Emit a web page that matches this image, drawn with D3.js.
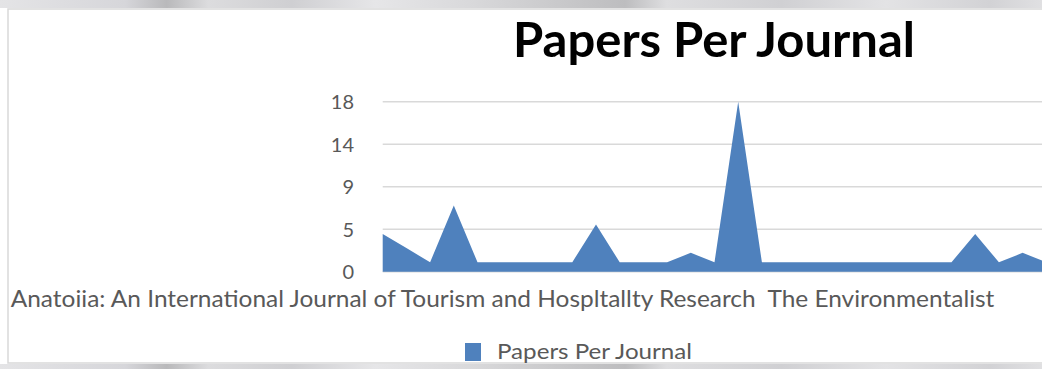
<!DOCTYPE html>
<html>
<head>
<meta charset="utf-8">
<script src="https://cdn.jsdelivr.net/npm/d3@7"></script>
<style>
  html, body { margin: 0; padding: 0; background: #ffffff; }
  svg { display: block; }
  text { font-family: Lato, "Open Sans", "Noto Sans", sans-serif; }
</style>
</head>
<body>
<svg id="chart" width="1042" height="369"></svg>
<script>
// Papers published per journal, in journal order
const papers = [4, 2.5, 1, 7, 1, 1, 1, 1, 1, 5, 1, 1, 1, 2, 1, 18, 1, 1, 1, 1, 1, 1, 1, 1, 1, 4, 1, 2, 1];

// Journal names shown under the axis (the rest are skipped to avoid overlap)
const journalLabels = [
  "Anatoiia: An International Journal of Tourism and Hospltallty Research",
  "", "", "", "", "", "", "", "", "", "", "", "", "", "", "", "", "", "", "", "",
  "The Environmentalist",
  "", "", "", "", "", "", ""
];

const yTickValues = [0, 4.5, 9, 13.5, 18];
const yTickLabels = ["0", "5", "9", "14", "18"];

const chartTitle = "Papers Per Journal";
const seriesName = "Papers Per Journal";

const svg = d3.select("#chart");
const W = 1042, H = 369;

// Scanned-page edges above and below the chart frame
const defs = svg.append("defs");
const grain = defs.append("linearGradient").attr("id", "grain").attr("x1", 0).attr("x2", 1);
[["0", "#e4e4e6"], ["0.12", "#d6d6da"], ["0.16", "#b9b9bb"], ["0.2", "#dcdcde"], ["0.28", "#cfcfd2"],
 ["0.36", "#e6e6e8"], ["0.45", "#d9d9db"], ["0.6", "#bdbdbf"], ["0.64", "#dedee0"], ["0.75", "#d0d0d3"],
 ["0.85", "#e3e3e5"], ["0.95", "#d2d2d5"], ["1", "#e0e0e2"]]
  .forEach(([o, c]) => grain.append("stop").attr("offset", o).attr("stop-color", c));

svg.append("rect").attr("x", 0).attr("y", 0).attr("width", W).attr("height", 8).attr("fill", "url(#grain)");
svg.append("rect").attr("x", 0).attr("y", 364).attr("width", W).attr("height", 5).attr("fill", "url(#grain)");

// Chart frame
svg.append("rect")
  .attr("x", 8).attr("y", 9).attr("width", W + 20).attr("height", 354)
  .attr("fill", "#ffffff").attr("stroke", "#d9d9d9").attr("stroke-width", 1.5);

// Scales
const plotLeft = 382.7, step = 23.7;
const x = d3.scalePoint()
  .domain(d3.range(papers.length))
  .range([plotLeft, plotLeft + step * (papers.length - 1)]);
const y = d3.scaleLinear().domain([0, 18]).range([271.7, 101.7]);

// Horizontal gridlines
svg.append("g").selectAll("line").data(yTickValues).join("line")
  .attr("x1", plotLeft).attr("x2", W + 10)
  .attr("y1", d => y(d)).attr("y2", d => y(d))
  .attr("stroke", "#d9d9d9").attr("stroke-width", 1.6);

// Area series
const area = d3.area()
  .x((d, i) => x(i))
  .y0(y(0))
  .y1(d => y(d));
svg.append("path").datum(papers)
  .attr("d", area)
  .attr("fill", "#4f81bd");

// Y axis labels
const yAxis = d3.axisLeft(y)
  .tickValues(yTickValues)
  .tickFormat((d, i) => yTickLabels[i])
  .tickSize(0).tickPadding(0);
const yg = svg.append("g").attr("transform", "translate(354,0)").call(yAxis);
yg.select(".domain").remove();
yg.selectAll("text")
  .attr("fill", "#595959")
  .style("font-family", 'Lato, "Open Sans", sans-serif')
  .style("font-size", "20px")
  .attr("dy", "0.36em");

// X axis labels
const xAxis = d3.axisBottom(x)
  .tickFormat(i => journalLabels[i])
  .tickSize(0).tickPadding(0);
const xg = svg.append("g").attr("transform", "translate(0,307)").call(xAxis);
xg.select(".domain").remove();
xg.selectAll(".tick").filter(i => !journalLabels[i]).remove();
const xLabels = xg.selectAll("text")
  .attr("fill", "#595959")
  .attr("dy", 0).attr("y", 0)
  .style("font-size", "23px");
// condense labels to the width of the first one
const firstNode = xLabels.filter(i => i === 0).node();
const k = 745 / firstNode.getComputedTextLength();
xLabels.each(function () {
  const w = this.getComputedTextLength();
  d3.select(this).attr("textLength", w * k).attr("lengthAdjust", "spacingAndGlyphs");
});

// Title
const title = svg.append("text")
  .attr("x", 714).attr("y", 57)
  .attr("text-anchor", "middle")
  .attr("fill", "#000000")
  .style("font-weight", "bold")
  .style("font-size", "48px")
  .text(chartTitle);
title.attr("textLength", 402).attr("lengthAdjust", "spacingAndGlyphs");

// Legend
const legend = svg.append("g").attr("transform", "translate(465,343)");
legend.append("rect").attr("width", 16).attr("height", 18).attr("fill", "#4f81bd");
legend.append("text")
  .attr("x", 32).attr("y", 15.5)
  .attr("fill", "#595959")
  .style("font-size", "22px")
  .attr("textLength", 195).attr("lengthAdjust", "spacingAndGlyphs")
  .text(seriesName);
</script>
</body>
</html>
